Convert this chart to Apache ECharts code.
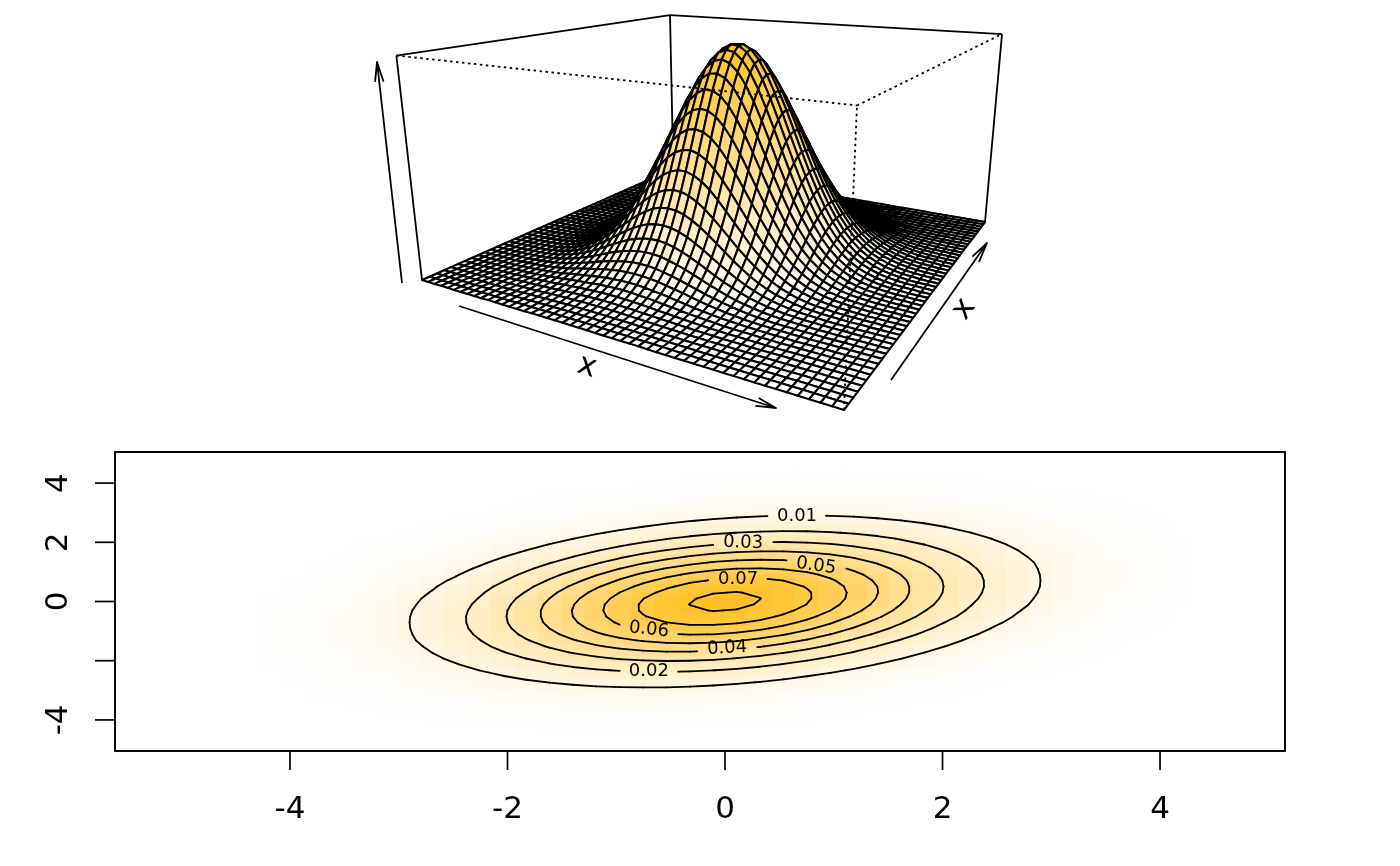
<!DOCTYPE html>
<html><head><meta charset="utf-8">
<style>html,body{margin:0;padding:0;background:#fff}#c{width:1400px;height:866px}</style>
<script src="https://cdn.jsdelivr.net/npm/echarts@6/dist/echarts.min.js"></script>
</head><body><div id="c"></div>
<script>
// grid of the density
const xs=[-5.49,-5.275,-5.06,-4.844,-4.629,-4.414,-4.198,-3.983,-3.768,-3.553,-3.337,-3.122,-2.907,-2.691,-2.476,-2.261,-2.045,-1.83,-1.615,-1.4,-1.184,-.969,-.754,-.538,-.323,-.108,.108,.323,.538,.754,.969,1.184,1.4,1.615,1.83,2.045,2.261,2.476,2.691,2.907,3.122,3.337,3.553,3.768,3.983,4.198,4.414,4.629,4.844,5.06];
const ys=[-4.949,-4.747,-4.545,-4.343,-4.141,-3.939,-3.737,-3.535,-3.333,-3.131,-2.929,-2.727,-2.525,-2.323,-2.121,-1.919,-1.717,-1.515,-1.313,-1.111,-.909,-.707,-.505,-.303,-.101,.101,.303,.505,.707,.909,1.111,1.313,1.515,1.717,1.919,2.121,2.323,2.525,2.727,2.929,3.131,3.333,3.535,3.737,3.939,4.141,4.343,4.545,4.747,4.949];
// density in units of 1e-4, one row per ys value, one column per xs value
const density=[
[0,0,0,0,0,0,0,0,0,0,1,1,1,1,1,1,2,2,2,2,2,2,2,2,1,1,1,1,1,1,0,0,0,0,0,0,0,0,0,0,0,0,0,0,0,0,0,0,0,0],
[0,0,0,0,0,0,0,0,0,1,1,1,1,2,2,2,2,3,3,3,3,3,3,3,2,2,2,2,1,1,1,1,0,0,0,0,0,0,0,0,0,0,0,0,0,0,0,0,0,0],
[0,0,0,0,0,0,0,1,1,1,1,2,2,2,3,3,4,4,4,5,5,5,5,4,4,4,3,3,2,2,1,1,1,1,0,0,0,0,0,0,0,0,0,0,0,0,0,0,0,0],
[0,0,0,0,0,0,1,1,1,1,2,2,3,4,4,5,6,6,7,7,7,7,7,7,6,6,5,4,4,3,2,2,1,1,1,1,0,0,0,0,0,0,0,0,0,0,0,0,0,0],
[0,0,0,0,0,1,1,1,2,2,3,4,4,5,6,8,9,10,10,11,11,11,11,11,10,9,8,7,6,5,4,3,2,2,1,1,1,0,0,0,0,0,0,0,0,0,0,0,0,0],
[0,0,0,0,0,1,1,2,2,3,4,5,6,8,9,11,13,14,15,16,17,17,17,16,15,14,12,11,9,8,6,5,4,3,2,1,1,1,0,0,0,0,0,0,0,0,0,0,0,0],
[0,0,0,0,1,1,1,2,3,4,5,7,9,11,13,16,18,20,22,24,25,25,25,24,23,21,19,16,14,12,10,8,6,4,3,2,2,1,1,0,0,0,0,0,0,0,0,0,0,0],
[0,0,0,1,1,1,2,3,4,5,7,9,12,15,18,22,25,28,31,34,35,36,36,35,33,31,28,24,21,18,14,12,9,7,5,4,3,2,1,1,0,0,0,0,0,0,0,0,0,0],
[0,0,0,1,1,2,2,4,5,7,10,13,16,20,25,30,34,39,43,47,49,51,51,50,48,44,40,36,31,26,21,17,13,10,8,6,4,3,2,1,1,0,0,0,0,0,0,0,0,0],
[0,0,1,1,1,2,3,5,7,9,12,16,21,27,33,40,46,53,59,64,68,70,71,70,67,63,57,51,45,38,31,25,20,15,12,8,6,4,3,2,1,1,0,0,0,0,0,0,0,0],
[0,0,1,1,2,3,4,6,8,12,16,21,27,34,43,51,61,70,78,85,91,95,96,95,92,86,79,71,62,53,44,36,29,22,17,12,9,6,4,3,2,1,1,0,0,0,0,0,0,0],
[0,0,1,1,2,3,5,7,10,14,19,26,34,44,54,66,78,90,102,111,120,125,128,127,124,117,108,98,86,74,62,51,40,31,24,18,13,9,6,4,3,2,1,1,0,0,0,0,0,0],
[0,1,1,1,2,4,6,8,12,17,24,32,42,54,67,82,98,114,129,143,154,162,166,167,163,155,144,131,116,100,84,69,56,44,33,25,18,13,9,6,4,3,2,1,1,0,0,0,0,0],
[0,1,1,2,3,4,6,10,14,20,28,38,50,65,82,100,120,141,160,178,193,205,211,213,209,201,188,171,153,132,112,93,75,59,45,34,25,18,12,8,6,4,2,1,1,0,0,0,0,0],
[0,1,1,2,3,5,7,11,16,23,33,44,59,77,97,120,145,170,195,218,238,254,264,267,264,255,239,220,197,172,147,122,99,78,60,45,33,24,17,11,8,5,3,2,1,1,0,0,0,0],
[0,1,1,2,3,5,8,12,18,26,37,51,68,89,113,140,170,201,232,261,286,307,320,327,325,315,298,275,248,218,187,156,128,102,79,60,44,32,22,15,10,7,4,3,2,1,1,0,0,0],
[0,1,1,2,4,6,9,14,20,29,41,57,76,101,129,161,196,233,270,306,338,364,382,392,392,382,364,338,306,270,233,197,161,129,101,77,57,41,29,20,14,9,6,4,2,1,1,0,0,0],
[0,1,1,2,4,6,9,15,22,32,45,62,84,111,143,180,221,264,308,350,389,422,446,460,463,454,435,406,370,329,285,241,199,160,126,97,72,53,37,26,18,12,8,5,3,2,1,1,0,0],
[0,1,1,2,4,6,10,15,23,33,48,67,91,121,156,197,244,293,343,393,439,478,509,528,534,527,508,477,437,391,341,290,241,195,154,119,89,66,47,33,22,15,10,6,4,2,1,1,0,0],
[0,1,1,2,4,6,10,16,24,35,50,70,95,128,167,211,263,318,375,432,485,532,568,593,603,599,580,548,506,455,399,341,285,233,185,143,108,80,58,40,28,19,12,8,5,3,2,1,1,0],
[0,1,1,2,4,6,10,16,24,35,51,72,98,132,174,222,277,337,400,464,524,578,621,652,668,666,650,617,572,518,457,393,330,271,216,169,128,95,69,49,34,23,15,9,6,4,2,1,1,0],
[0,1,1,2,4,6,10,15,23,35,50,72,99,134,177,228,286,350,418,486,553,613,663,700,721,724,710,679,632,576,510,442,373,308,247,194,148,111,81,57,40,27,18,11,7,4,3,2,1,0],
[0,1,1,2,3,6,9,15,22,34,49,70,98,133,177,229,289,355,426,500,572,638,694,737,763,771,760,731,685,627,560,488,414,344,278,220,169,127,93,66,46,32,21,13,9,5,3,2,1,1],
[0,1,1,2,3,5,9,14,21,32,47,67,95,129,173,225,286,353,427,503,579,649,711,759,790,803,796,769,726,668,600,526,449,375,305,242,187,141,104,75,53,36,24,16,10,6,4,2,1,1],
[0,0,1,2,3,5,8,13,20,30,44,64,89,123,165,216,276,344,418,495,573,647,712,764,801,818,816,794,754,698,630,555,477,400,328,262,203,155,115,83,58,40,27,18,11,7,4,3,1,1],
[0,0,1,1,3,4,7,11,18,27,40,58,83,115,155,203,262,328,400,477,555,630,698,754,794,816,818,801,764,712,647,573,495,418,344,276,216,165,123,89,64,44,30,20,13,8,5,3,2,1],
[0,0,1,1,2,4,6,10,16,24,36,53,75,104,141,187,242,305,375,449,526,600,668,726,769,796,803,790,759,711,649,579,503,427,353,286,225,173,129,95,67,47,32,21,14,9,5,3,2,1],
[0,0,1,1,2,3,5,9,13,21,32,46,66,93,127,169,220,278,344,414,488,560,627,685,731,760,771,763,737,694,638,572,500,426,355,289,229,177,133,98,70,49,34,22,15,9,6,3,2,1],
[0,0,0,1,2,3,4,7,11,18,27,40,57,81,111,148,194,247,308,373,442,510,576,632,679,710,724,721,700,663,613,553,486,418,350,286,228,177,134,99,72,50,35,23,15,10,6,4,2,1],
[0,0,0,1,1,2,4,6,9,15,23,34,49,69,95,128,169,216,271,330,393,457,518,572,617,650,666,668,652,621,578,524,464,400,337,277,222,174,132,98,72,51,35,24,16,10,6,4,2,1],
[0,0,0,1,1,2,3,5,8,12,19,28,40,58,80,108,143,185,233,285,341,399,455,506,548,580,599,603,593,568,532,485,432,375,318,263,211,167,128,95,70,50,35,24,16,10,6,4,2,1],
[0,0,0,0,1,1,2,4,6,10,15,22,33,47,66,89,119,154,195,241,290,341,391,437,477,508,527,534,528,509,478,439,393,343,293,244,197,156,121,91,67,48,33,23,15,10,6,4,2,1],
[0,0,0,0,1,1,2,3,5,8,12,18,26,37,53,72,97,126,160,199,241,285,329,370,406,435,454,463,460,446,422,389,350,308,264,221,180,143,111,84,62,45,32,22,15,9,6,4,2,1],
[0,0,0,0,0,1,1,2,4,6,9,14,20,29,41,57,77,101,129,161,197,233,270,306,338,364,382,392,392,382,364,338,306,270,233,196,161,129,101,76,57,41,29,20,14,9,6,4,2,1],
[0,0,0,0,0,1,1,2,3,4,7,10,15,22,32,44,60,79,102,128,156,187,218,248,275,298,315,325,327,320,307,286,261,232,201,170,140,113,89,68,51,37,26,18,12,8,5,3,2,1],
[0,0,0,0,0,0,1,1,2,3,5,8,11,17,24,33,45,60,78,99,122,147,172,197,220,239,255,264,267,264,254,238,218,195,170,145,120,97,77,59,44,33,23,16,11,7,5,3,2,1],
[0,0,0,0,0,0,0,1,1,2,4,6,8,12,18,25,34,45,59,75,93,112,132,153,171,188,201,209,213,211,205,193,178,160,141,120,100,82,65,50,38,28,20,14,10,6,4,3,2,1],
[0,0,0,0,0,0,0,1,1,2,3,4,6,9,13,18,25,33,44,56,69,84,100,116,131,144,155,163,167,166,162,154,143,129,114,98,82,67,54,42,32,24,17,12,8,6,4,2,1,1],
[0,0,0,0,0,0,0,0,1,1,2,3,4,6,9,13,18,24,31,40,51,62,74,86,98,108,117,124,127,128,125,120,111,102,90,78,66,54,44,34,26,19,14,10,7,5,3,2,1,1],
[0,0,0,0,0,0,0,0,0,1,1,2,3,4,6,9,12,17,22,29,36,44,53,62,71,79,86,92,95,96,95,91,85,78,70,61,51,43,34,27,21,16,12,8,6,4,3,2,1,1],
[0,0,0,0,0,0,0,0,0,0,1,1,2,3,4,6,8,12,15,20,25,31,38,45,51,57,63,67,70,71,70,68,64,59,53,46,40,33,27,21,16,12,9,7,5,3,2,1,1,1],
[0,0,0,0,0,0,0,0,0,0,0,1,1,2,3,4,6,8,10,13,17,21,26,31,36,40,44,48,50,51,51,49,47,43,39,34,30,25,20,16,13,10,7,5,4,2,2,1,1,0],
[0,0,0,0,0,0,0,0,0,0,0,0,1,1,2,3,4,5,7,9,12,14,18,21,24,28,31,33,35,36,36,35,34,31,28,25,22,18,15,12,9,7,5,4,3,2,1,1,1,0],
[0,0,0,0,0,0,0,0,0,0,0,0,0,1,1,2,2,3,4,6,8,10,12,14,16,19,21,23,24,25,25,25,24,22,20,18,16,13,11,9,7,5,4,3,2,1,1,1,0,0],
[0,0,0,0,0,0,0,0,0,0,0,0,0,0,1,1,1,2,3,4,5,6,8,9,11,12,14,15,16,17,17,17,16,15,14,13,11,9,8,6,5,4,3,2,2,1,1,0,0,0],
[0,0,0,0,0,0,0,0,0,0,0,0,0,0,0,1,1,1,2,2,3,4,5,6,7,8,9,10,11,11,11,11,11,10,10,9,8,6,5,4,4,3,2,2,1,1,1,0,0,0],
[0,0,0,0,0,0,0,0,0,0,0,0,0,0,0,0,1,1,1,1,2,2,3,4,4,5,6,6,7,7,7,7,7,7,6,6,5,4,4,3,2,2,1,1,1,1,0,0,0,0],
[0,0,0,0,0,0,0,0,0,0,0,0,0,0,0,0,0,0,1,1,1,1,2,2,3,3,4,4,4,5,5,5,5,4,4,4,3,3,2,2,2,1,1,1,1,0,0,0,0,0],
[0,0,0,0,0,0,0,0,0,0,0,0,0,0,0,0,0,0,0,0,1,1,1,1,2,2,2,2,3,3,3,3,3,3,3,2,2,2,2,1,1,1,1,0,0,0,0,0,0,0],
[0,0,0,0,0,0,0,0,0,0,0,0,0,0,0,0,0,0,0,0,0,0,1,1,1,1,1,1,2,2,2,2,2,2,2,2,1,1,1,1,1,1,0,0,0,0,0,0,0,0]
];
const contourLevels=[100,200,300,400,500,600,700,800];
const contourLabels=['0.01','0.02','0.03','0.04','0.05','0.06','0.07',''];
const labelX=[.662,-.70,.166,.02,.837,-.70,.12,0];
const labelY=[2.89,-2.35,1.98,-1.58,1.2,-.95,.76,0];
const labelAngle=[0,0,-2,3,-8,-6,0,0];
const xTicks=[-4,-2,0,2,4];
const yTicks=[-4,-2,0,2,4];
const yTickLabels=[-4,0,2,4];

// layout and view
const GOLD='#FFC125', BLACK='#000', FONT='"DejaVu Sans"';
const viewF=[844,410],viewL=[422,280],viewR=[985,222],viewT=[857,105.5],viewPersp=[.38,.66,-.105];
const zMax=Math.max.apply(null,density.map(r=>Math.max.apply(null,r)));
const col=(z)=>echarts.color.lerp(Math.min(1,z/zMax),['#FFFFFF',GOLD]);
function project(u,v,w){
  const [g,h,k]=viewPersp, den=1+g*u+h*v+k*w, o=[0,0];
  for(let a=0;a<2;a++){
    o[a]=(viewF[a]+u*((1+g)*viewL[a]-viewF[a])+v*((1+h)*viewR[a]-viewF[a])+w*((1+k)*viewT[a]-viewF[a]))/den;
  }
  return o;
}
const xMin=xs[0],xMax=xs[xs.length-1],yMin=ys[0],yMax=ys[ys.length-1];
const surfPoint=(i,j)=>project((xMax-xs[i])/(xMax-xMin),(ys[j]-yMin)/(yMax-yMin),density[j][i]/zMax);

const heatData=[];
ys.forEach((y,j)=>xs.forEach((x,i)=>heatData.push([x,y,density[j][i]])));
const cellData=[];
for(let i=0;i<xs.length-1;i++)for(let j=ys.length-2;j>=0;j--)cellData.push([i,j]);

const boxSolid=[[[1,0,1],[1,1,1]],[[1,1,1],[0,1,1]],[[1,0,0],[1,0,1]],[[0,1,0],[0,1,1]],[[1,1,0],[1,1,1]],[[1,0,0],[1,1,0]],[[1,1,0],[0,1,0]]];
const boxDotted=[[[1,0,1],[0,0,1]],[[0,0,1],[0,1,1]],[[0,0,0],[0,0,1]]];

function boxSeries(edges,dash,z){
  return {type:'custom',coordinateSystem:'cartesian2d',xAxisIndex:0,yAxisIndex:0,z:z,silent:true,clip:false,
    data:edges.map((e,n)=>[n]),encode:{x:0},
    renderItem:(p,api)=>{
      const e=edges[api.value(0)],a=api.coord(project.apply(null,e[0])),b=api.coord(project.apply(null,e[1]));
      return {type:'line',shape:{x1:a[0],y1:a[1],x2:b[0],y2:b[1]},style:{stroke:BLACK,lineWidth:1.8,lineDash:dash,fill:null}};
    }};
}

function contourSegments(level){
  const segs=[];
  const cross=(x1,y1,z1,x2,y2,z2)=>{const t=(level-z1)/(z2-z1);return [x1+t*(x2-x1),y1+t*(y2-y1)];};
  for(let j=0;j<ys.length-1;j++)for(let i=0;i<xs.length-1;i++){
    const x0=xs[i],x1=xs[i+1],y0=ys[j],y1=ys[j+1];
    const a=density[j][i],b=density[j][i+1],c=density[j+1][i+1],d=density[j+1][i];
    const pts=[];
    if((a>=level)!==(b>=level))pts.push(cross(x0,y0,a,x1,y0,b));
    if((b>=level)!==(c>=level))pts.push(cross(x1,y0,b,x1,y1,c));
    if((d>=level)!==(c>=level))pts.push(cross(x0,y1,d,x1,y1,c));
    if((a>=level)!==(d>=level))pts.push(cross(x0,y0,a,x0,y1,d));
    if(pts.length===2)segs.push(pts);
    else if(pts.length===4){segs.push([pts[0],pts[1]]);segs.push([pts[2],pts[3]]);}
  }
  return segs;
}

const arrows=[[[402,283],[377,62]],[[459,306],[776,408]],[[891,380],[987,243]]];
function arrowElems(a){
  const [s,t]=a,ang=Math.atan2(s[1]-t[1],s[0]-t[0]),len=20,sp=.21,st={stroke:BLACK,lineWidth:1.8,fill:null,lineJoin:'round'};
  return {type:'polyline',silent:true,shape:{points:[[t[0]+len*Math.cos(ang+sp),t[1]+len*Math.sin(ang+sp)],t,[t[0]+len*Math.cos(ang-sp),t[1]+len*Math.sin(ang-sp)],t,s]},style:st};
}

const chart=echarts.init(document.getElementById('c'),null,{renderer:'canvas',width:1400,height:866});
chart.setOption({
  animation:false,backgroundColor:'#fff',
  textStyle:{fontFamily:FONT},
  grid:[{left:0,right:0,top:0,bottom:0,show:false},
        {left:115,right:115,top:452,bottom:115,show:false}],
  xAxis:[{gridIndex:0,type:'value',min:0,max:1400,show:false},
    {gridIndex:1,type:'value',min:-5.609,max:5.149,splitLine:{show:false},axisLine:{show:false},
     axisTick:{show:false},
     axisLabel:{show:true,customValues:xTicks,margin:43,fontSize:31,color:BLACK,fontFamily:FONT}}],
  yAxis:[{gridIndex:0,type:'value',min:0,max:866,inverse:true,show:false},
    {gridIndex:1,type:'value',min:-5.05,max:5.05,splitLine:{show:false},axisLine:{show:false},
     axisTick:{show:false},
     axisLabel:{show:true,customValues:yTickLabels,rotate:90,margin:41,fontSize:31,color:BLACK,fontFamily:FONT}}],
  series:[
    boxSeries(boxSolid,null,1),
    {type:'custom',coordinateSystem:'cartesian2d',xAxisIndex:0,yAxisIndex:0,z:2,silent:true,clip:false,progressive:0,
     data:cellData,encode:{x:0,y:1},
     renderItem:(p,api)=>{
       const i=api.value(0),j=api.value(1);
       const pts=[surfPoint(i,j),surfPoint(i+1,j),surfPoint(i+1,j+1),surfPoint(i,j+1)].map(q=>api.coord(q));
       const m=(density[j][i]+density[j][i+1]+density[j+1][i+1]+density[j+1][i])/4;
       return {type:'polygon',shape:{points:pts},style:{fill:col(m),stroke:BLACK,lineWidth:2.1,lineJoin:'round'}};
     }},
    boxSeries(boxDotted,[2.5,3.5],3),
    {type:'custom',coordinateSystem:'cartesian2d',xAxisIndex:1,yAxisIndex:1,z:4,silent:true,progressive:0,
     data:heatData,encode:{x:0,y:1},
     renderItem:(p,api)=>{
       const c=api.coord([api.value(0),api.value(1)]),s=api.size([.2153,.202]);
       return {type:'rect',shape:{x:c[0]-s[0]/2,y:c[1]-s[1]/2,width:s[0]+.6,height:s[1]+.6},style:{fill:col(api.value(2))}};
     }},
    {type:'custom',coordinateSystem:'cartesian2d',xAxisIndex:1,yAxisIndex:1,z:5,silent:true,
     data:contourLevels.map((l,n)=>[labelX[n],labelY[n],n]),encode:{x:0,y:1},
     renderItem:(p,api)=>{
       const n=api.value(2),txt=contourLabels[n],children=[];
       const ctr=api.coord([labelX[n],labelY[n]]),th=labelAngle[n]*Math.PI/180;
       const masked=q=>{
         if(!txt)return false;
         const dx=q[0]-ctr[0],dy=q[1]-ctr[1];
         const ax=dx*Math.cos(th)-dy*Math.sin(th),ay=dx*Math.sin(th)+dy*Math.cos(th);
         return Math.abs(ax)<29&&Math.abs(ay)<10;
       };
       contourSegments(contourLevels[n]).forEach(sg=>{
         const a=api.coord(sg[0]),b=api.coord(sg[1]),len=Math.hypot(b[0]-a[0],b[1]-a[1]);
         const k=Math.max(1,Math.ceil(len/1.5));
         let start=null,last=null;
         for(let t=0;t<=k;t++){
           const q=[a[0]+(b[0]-a[0])*t/k,a[1]+(b[1]-a[1])*t/k];
           if(!masked(q)){if(!start)start=q;last=q;}
           else if(start){children.push([start,last]);start=null;}
         }
         if(start&&last!==start)children.push([start,last]);
       });
       const els=children.map(s=>({type:'line',shape:{x1:s[0][0],y1:s[0][1],x2:s[1][0],y2:s[1][1]},style:{stroke:BLACK,lineWidth:1.8,lineCap:'round',fill:null}}));
       if(txt)els.push({type:'text',x:ctr[0],y:ctr[1],rotation:th,style:{text:txt,fontSize:18,fontFamily:FONT,fill:BLACK,align:'center',verticalAlign:'middle'}});
       return {type:'group',children:els};
     }},
    {type:'custom',coordinateSystem:'cartesian2d',xAxisIndex:1,yAxisIndex:1,z:6,silent:true,clip:false,
     data:[[0,0]],encode:{x:0,y:1},
     renderItem:(p,api)=>{
       const cs=p.coordSys,tick={stroke:BLACK,lineWidth:1.7,fill:null},els=[];
       xTicks.forEach(v=>{const c=api.coord([v,0])[0];els.push({type:'line',shape:{x1:c,y1:cs.y+cs.height,x2:c,y2:cs.y+cs.height+19},style:tick});});
       yTicks.forEach(v=>{const c=api.coord([0,v])[1];els.push({type:'line',shape:{x1:cs.x,y1:c,x2:cs.x-20,y2:c},style:tick});});
       els.push({type:'rect',shape:{x:cs.x,y:cs.y,width:cs.width,height:cs.height},style:{fill:null,stroke:BLACK,lineWidth:1.9}});
       return {type:'group',children:els};
     }}
  ],
  graphic:{elements:arrows.map(arrowElems).concat([
    {type:'text',silent:true,x:587,y:367,rotation:-.31,style:{text:'x',fontSize:31,fontFamily:FONT,fill:BLACK,align:'center',verticalAlign:'middle'}},
    {type:'text',silent:true,x:964,y:309,rotation:.96,style:{text:'x',fontSize:31,fontFamily:FONT,fill:BLACK,align:'center',verticalAlign:'middle'}}
  ])}
});
</script></body></html>
